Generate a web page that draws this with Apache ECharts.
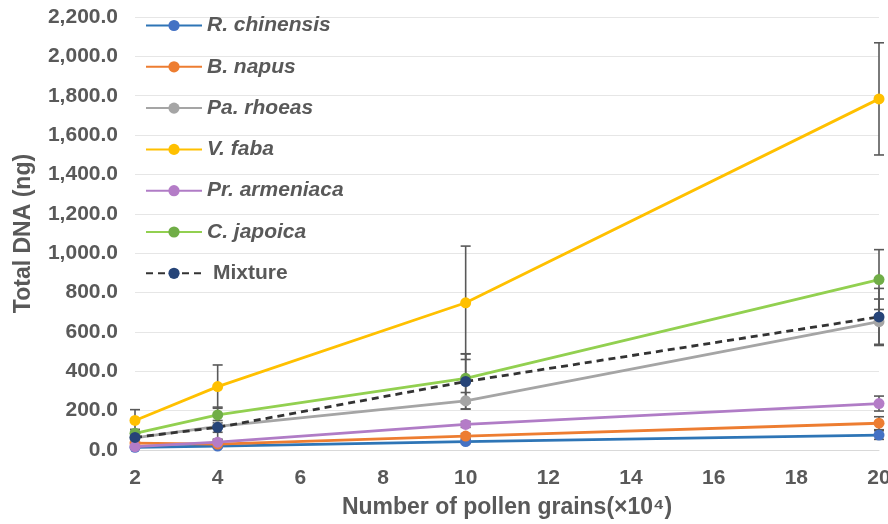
<!DOCTYPE html>
<html>
<head>
<meta charset="utf-8">
<script src="https://cdn.jsdelivr.net/npm/echarts@6/dist/echarts.min.js"></script>
<style>html,body{margin:0;padding:0;background:#fff;}#c{width:888px;height:524px;}</style>
</head>
<body>
<div id="c"></div>
<script>
const xValues = [2, 4, 10, 20];
const seriesNames = ['R. chinensis', 'B. napus', 'Pa. rhoeas', 'V. faba', 'Pr. armeniaca', 'C. japoica', 'Mixture'];
const rChinensis = [14, 20, 43, 76];
const bNapus = [35, 30, 71, 136];
const paRhoeas = [62, 120, 250, 652];
const vFaba = [150, 322, 748, 1784];
const prArmeniaca = [17, 40, 130, 236];
const cJapoica = [85, 178, 364, 866];
const mixture = [64, 115, 348, 676];
const rChinensisErr = [8, 8, 10, 22];
const bNapusErr = [8, 8, 12, 33];
const paRhoeasErr = [15, 30, 42, 115];
const vFabaErr = [55, 110, 288, 285];
const prArmeniacaErr = [8, 10, 15, 38];
const cJapoicaErr = [20, 40, 125, 152];
const mixtureErr = [15, 60, 140, 145];
const yTicks = [0, 200, 400, 600, 800, 1000, 1200, 1400, 1600, 1800, 2000, 2200];

const values = [rChinensis, bNapus, paRhoeas, vFaba, prArmeniaca, cJapoica, mixture];
const errs = [rChinensisErr, bNapusErr, paRhoeasErr, vFabaErr, prArmeniacaErr, cJapoicaErr, mixtureErr];
const lineColors = ['#2E75B6', '#ED7D31', '#A5A5A5', '#FFC000', '#B07CC6', '#92D050', '#333333'];
const markerColors = ['#4472C4', '#ED7D31', '#A5A5A5', '#FFC000', '#B47CC7', '#70AD47', '#264478'];

const chart = echarts.init(document.getElementById('c'));
const series = [];
values.forEach((vals, i) => {
  series.push({
    type: 'custom',
    name: seriesNames[i] + ' err',
    silent: true,
    z: 1,
    data: xValues.map((x, k) => [x, vals[k] - errs[i][k], vals[k] + errs[i][k]]),
    renderItem: function (params, api) {
      const x = api.value(0);
      const lo = api.coord([x, api.value(1)]);
      const hi = api.coord([x, api.value(2)]);
      const w = 5;
      const st = { stroke: '#595959', lineWidth: 1.6 };
      return {
        type: 'group',
        children: [
          { type: 'line', shape: { x1: hi[0], y1: hi[1], x2: lo[0], y2: lo[1] }, style: st },
          { type: 'line', shape: { x1: hi[0] - w, y1: hi[1], x2: hi[0] + w, y2: hi[1] }, style: st },
          { type: 'line', shape: { x1: lo[0] - w, y1: lo[1], x2: lo[0] + w, y2: lo[1] }, style: st }
        ]
      };
    }
  });
});
values.forEach((vals, i) => {
  series.push({
    type: 'line',
    name: seriesNames[i],
    z: 3 + i,
    data: xValues.map((x, k) => [x, vals[k]]),
    symbol: 'circle',
    symbolSize: 11,
    lineStyle: { color: lineColors[i], width: 2.8, type: i === 6 ? [7, 5] : 'solid' },
    itemStyle: { color: markerColors[i], borderWidth: 0 },
    emphasis: { disabled: true },
    animation: false
  });
});

const fontFam = 'Liberation Sans, Arial, sans-serif';
chart.setOption({
  animation: false,
  backgroundColor: '#fff',
  grid: { left: 135, right: 9, top: 17, bottom: 74, containLabel: false, outerBoundsMode: 'none' },
  legend: {
    data: seriesNames,
    orient: 'vertical',
    left: 140,
    top: 10,
    itemGap: 20.3,
    itemWidth: 56,
    itemHeight: 14,
    formatter: function (n) { return n === 'Mixture' ? '{m|' + n + '}' : '{i|' + n + '}'; },
    textStyle: {
      color: '#595959',
      fontFamily: fontFam,
      fontSize: 21,
      fontWeight: 'bold',
      rich: {
        i: { fontStyle: 'italic', fontWeight: 'bold', fontSize: 21, lineHeight: 20, color: '#595959', fontFamily: fontFam },
        m: { fontWeight: 'bold', fontSize: 21, lineHeight: 20, color: '#595959', fontFamily: fontFam, padding: [0, 0, 0, 6] }
      }
    }
  },
  xAxis: {
    type: 'value',
    min: 2,
    max: 20,
    interval: 2,
    name: 'Number of pollen grains(×10⁴)',
    nameLocation: 'middle',
    nameGap: 46,
    nameTextStyle: { color: '#595959', fontFamily: fontFam, fontSize: 23, fontWeight: 'bold' },
    axisLine: { show: true, lineStyle: { color: '#D9D9D9', width: 1 } },
    axisTick: { show: false },
    splitLine: { show: false },
    axisLabel: { color: '#595959', fontFamily: fontFam, fontSize: 21, fontWeight: 'bold', margin: 18 }
  },
  yAxis: {
    type: 'value',
    min: yTicks[0],
    max: yTicks[yTicks.length - 1],
    interval: 200,
    name: 'Total DNA (ng)',
    nameLocation: 'middle',
    nameGap: 100,
    nameTextStyle: { color: '#595959', fontFamily: fontFam, fontSize: 23, fontWeight: 'bold' },
    axisLine: { show: false },
    axisTick: { show: false },
    splitLine: { show: true, lineStyle: { color: '#E6E6E6', width: 1 } },
    axisLabel: {
      color: '#595959', fontFamily: fontFam, fontSize: 21, fontWeight: 'bold', margin: 17,
      formatter: function (v) { return v.toLocaleString('en-US', { minimumFractionDigits: 1, maximumFractionDigits: 1 }); }
    }
  },
  series: series
});
</script>
</body>
</html>
